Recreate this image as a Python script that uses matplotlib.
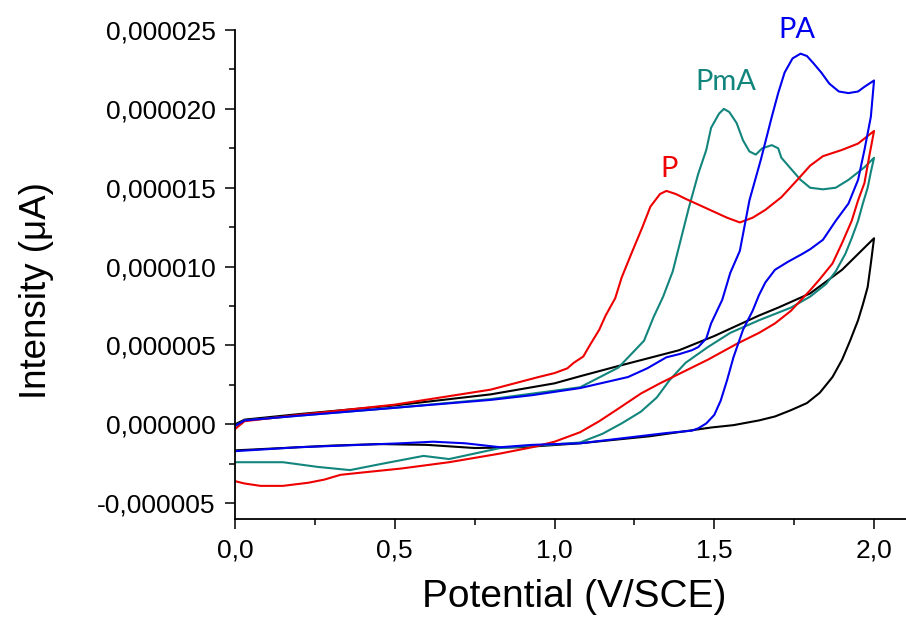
import matplotlib
matplotlib.use("Agg")
import matplotlib.pyplot as plt
from matplotlib.ticker import MultipleLocator, FuncFormatter

plt.rcParams['font.family'] = ['Liberation Sans', 'DejaVu Sans']

# current values read in units of 1e-6 A, potential in V/SCE
# blank (black)
blank_fwd_x = [0.0, 0.03, 0.2, 0.5, 0.8, 1.0, 1.08, 1.2, 1.39, 1.5, 1.64, 1.70, 1.80, 1.90, 2.0]
blank_fwd_y = [0.0, 0.3, 0.65, 1.2, 1.9, 2.6, 3.05, 3.7, 4.7, 5.6, 6.9, 7.4, 8.3, 9.8, 11.8]
blank_rev_x = [2.0, 1.99, 1.98, 1.965, 1.95, 1.925, 1.90, 1.87, 1.83, 1.79, 1.74, 1.69, 1.64, 1.56,
               1.49, 1.30, 1.08, 0.9, 0.75, 0.6, 0.45, 0.3, 0.15, 0.0]
blank_rev_y = [11.8, 10.2, 8.7, 7.6, 6.6, 5.3, 4.1, 3.0, 2.0, 1.35, 0.9, 0.5, 0.25, -0.05,
               -0.2, -0.75, -1.2, -1.45, -1.5, -1.3, -1.25, -1.35, -1.5, -1.65]

# P (red)
p_fwd_x = [0.0, 0.03, 0.2, 0.5, 0.8, 0.95, 1.0, 1.04, 1.06, 1.09, 1.11, 1.14, 1.16, 1.19, 1.21,
           1.24, 1.275, 1.30, 1.33, 1.35, 1.38, 1.41, 1.475, 1.54, 1.58, 1.62, 1.66, 1.71,
           1.76, 1.80, 1.84, 1.90, 1.95, 2.0]
p_fwd_y = [-0.3, 0.2, 0.6, 1.25, 2.2, 3.0, 3.25, 3.55, 3.9, 4.3, 5.0, 6.0, 6.9, 8.0, 9.3,
           10.8, 12.5, 13.8, 14.6, 14.8, 14.6, 14.3, 13.7, 13.1, 12.8, 13.1, 13.6, 14.4,
           15.5, 16.4, 17.0, 17.4, 17.8, 18.6]
p_rev_x = [2.0, 1.985, 1.97, 1.95, 1.93, 1.90, 1.87, 1.83, 1.80, 1.74, 1.69, 1.64, 1.57, 1.48,
           1.39, 1.33, 1.27, 1.2, 1.14, 1.08, 1.0, 0.93, 0.83, 0.67, 0.52, 0.4, 0.33, 0.28,
           0.23, 0.15, 0.08, 0.03, 0.0]
p_rev_y = [18.6, 17.0, 15.3, 14.2, 12.9, 11.5, 10.2, 9.2, 8.5, 7.2, 6.4, 5.8, 5.1, 4.1,
           3.2, 2.6, 1.95, 1.0, 0.2, -0.5, -1.1, -1.45, -1.85, -2.4, -2.8, -3.05, -3.2, -3.5,
           -3.7, -3.9, -3.9, -3.75, -3.6]

# PmA (teal)
pma_fwd_x = [0.0, 0.03, 0.2, 0.5, 0.8, 1.08, 1.20, 1.28, 1.31, 1.34, 1.37, 1.39, 1.42, 1.45,
             1.475, 1.49, 1.515, 1.53, 1.547, 1.57, 1.59, 1.61, 1.63, 1.65, 1.68, 1.70, 1.71,
             1.74, 1.77, 1.80, 1.84, 1.88, 1.92, 1.97, 2.0]
pma_fwd_y = [-0.1, 0.25, 0.55, 1.05, 1.6, 2.35, 3.6, 5.3, 6.8, 8.1, 9.7, 11.3, 13.7, 15.9,
             17.4, 18.8, 19.7, 20.0, 19.8, 19.1, 18.0, 17.3, 17.1, 17.5, 17.7, 17.5, 16.9,
             16.2, 15.5, 15.0, 14.9, 15.0, 15.5, 16.3, 16.9]
pma_rev_x = [2.0, 1.99, 1.98, 1.965, 1.95, 1.93, 1.91, 1.88, 1.85, 1.80, 1.74, 1.64, 1.55,
             1.48, 1.41, 1.36, 1.32, 1.27, 1.21, 1.15, 1.08, 0.98, 0.9, 0.83, 0.75, 0.67,
             0.59, 0.46, 0.36, 0.26, 0.15, 0.0]
pma_rev_y = [16.9, 16.0, 15.0, 14.0, 12.9, 11.8, 10.8, 9.7, 8.9, 8.1, 7.4, 6.6, 5.8,
             4.9, 3.9, 2.8, 1.7, 0.8, 0.06, -0.6, -1.15, -1.3, -1.4, -1.5, -1.85, -2.2,
             -2.0, -2.5, -2.9, -2.7, -2.4, -2.4]

# PA (blue)
pa_fwd_x = [0.0, 0.03, 0.2, 0.5, 0.8, 0.93, 1.08, 1.23, 1.29, 1.35, 1.39, 1.43, 1.45, 1.475,
            1.49, 1.525, 1.55, 1.58, 1.61, 1.646, 1.68, 1.70, 1.72, 1.745, 1.77, 1.79, 1.81,
            1.835, 1.86, 1.89, 1.92, 1.95, 1.97, 2.0]
pa_fwd_y = [-0.1, 0.25, 0.55, 1.05, 1.55, 1.85, 2.3, 3.0, 3.55, 4.25, 4.45, 4.7, 4.9, 5.45,
            6.4, 7.9, 9.6, 11.0, 14.2, 16.8, 19.5, 21.0, 22.3, 23.2, 23.5, 23.35, 22.9,
            22.3, 21.6, 21.1, 21.0, 21.1, 21.4, 21.8]
pa_rev_x = [2.0, 1.99, 1.97, 1.95, 1.92, 1.88, 1.84, 1.80, 1.775, 1.73, 1.69, 1.66, 1.64, 1.62,
            1.59, 1.56, 1.54, 1.52, 1.50, 1.475, 1.45, 1.43, 1.35, 1.08, 0.93, 0.83, 0.72,
            0.62, 0.52, 0.2, 0.0]
pa_rev_y = [21.8, 19.5, 17.4, 15.5, 14.0, 12.9, 11.7, 11.1, 10.8, 10.3, 9.8, 9.0, 8.2, 7.2,
            6.0, 4.25, 2.8, 1.5, 0.6, 0.06, -0.25, -0.4, -0.55, -1.2, -1.3, -1.45, -1.2,
            -1.1, -1.2, -1.45, -1.7]

curves = [
    (blank_fwd_x + blank_rev_x, blank_fwd_y + blank_rev_y, 'black'),
    (pma_fwd_x + pma_rev_x, pma_fwd_y + pma_rev_y, '#12857c'),
    (p_fwd_x + p_rev_x, p_fwd_y + p_rev_y, '#ee0000'),
    (pa_fwd_x + pa_rev_x, pa_fwd_y + pa_rev_y, '#0000ee'),
]

labels = ['P', 'PmA', 'PA']
label_x = [1.36, 1.5375, 1.76]
label_y = [16.2, 21.7, 25.0]
label_colors = ['#ee0000', '#12857c', '#0000ee']

fig = plt.figure(figsize=(9.06, 6.26), dpi=100)
ax = fig.add_axes([235 / 906, 1 - 519 / 626, 671 / 906, 489 / 626])

for xs, ys, c in curves:
    ax.plot(xs, [v * 1e-6 for v in ys], color=c, lw=1.5)

for t, x, y, c in zip(labels, label_x, label_y, label_colors):
    ax.text(x, y * 1e-6, t, color=c, fontsize=21, family=['Lato', 'DejaVu Sans'],
            ha='center', va='center', clip_on=False)

ax.set_xlim(0, 2.1)
ax.set_ylim(-6e-6, 25e-6)

ax.spines['top'].set_visible(False)
ax.spines['right'].set_visible(False)
for s in ['left', 'bottom']:
    ax.spines[s].set_linewidth(1.3)

ax.xaxis.set_major_locator(MultipleLocator(0.5))
ax.xaxis.set_minor_locator(MultipleLocator(0.25))
ax.yaxis.set_major_locator(MultipleLocator(5e-6))
ax.yaxis.set_minor_locator(MultipleLocator(2.5e-6))


def yfmt(v, pos):
    if abs(v) < 1e-12:
        v = 0.0
    return f"{v:.6f}".replace('.', ',')


def xfmt(v, pos):
    return f"{v:.1f}".replace('.', ',')


ax.yaxis.set_major_formatter(FuncFormatter(yfmt))
ax.xaxis.set_major_formatter(FuncFormatter(xfmt))
ax.tick_params(which='major', direction='out', length=7, width=1.1, labelsize=19, pad=7)
ax.tick_params(which='minor', direction='out', length=4.5, width=1.1)

ax.set_xlabel('Potential (V/SCE)', fontsize=28)
ax.set_ylabel('Intensity (μA)', fontsize=26.5)
ax.xaxis.set_label_coords(0.505, -0.122)
ax.yaxis.set_label_coords(-0.27, 0.468)

fig.savefig('out.png', dpi=100)
